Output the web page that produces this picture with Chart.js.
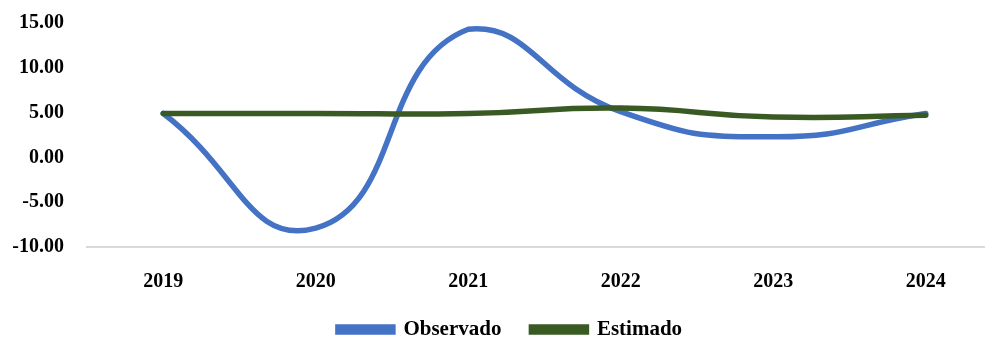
<!DOCTYPE html>
<html>
<head>
<meta charset="utf-8">
<script src="https://cdn.jsdelivr.net/npm/chart.js@4.4.1/dist/chart.umd.min.js"></script>
<style>
  html, body { margin: 0; padding: 0; background: #ffffff; overflow: hidden; }
  #wrap { position: relative; width: 1036px; height: 337px; }
</style>
</head>
<body>
<div id="wrap"><canvas id="chart"></canvas></div>
<script>
// Years on the category axis
const years = ['2019', '2020', '2021', '2022', '2023', '2024'];
// Observed and estimated series
const observado = [4.9, -7.9, 14.3, 5.1, 2.3, 4.9];
const estimado = [4.9, 4.9, 4.9, 5.5, 4.5, 4.7];
// Value axis range
const yMin = -10;
const yMax = 15;
const yStep = 5;

const serif = '"Liberation Serif", "DejaVu Serif", serif';

// Nudges the bottom legend row a little to the right of the plot centre
const legendNudge = {
  id: 'legendNudge',
  afterLayout(chart) {
    if (chart.legend) {
      chart.legend.left += 9;
      chart.legend.right += 9;
    }
  }
};

new Chart(document.getElementById('chart'), {
  type: 'line',
  data: {
    labels: years,
    datasets: [
      {
        label: 'Observado',
        data: observado,
        borderColor: '#4472C4',
        backgroundColor: '#4472C4',
        borderWidth: 5.5,
        borderCapStyle: 'round',
        pointRadius: 0,
        tension: 0.5,
        order: 1
      },
      {
        label: 'Estimado',
        data: estimado,
        borderColor: '#3A5A24',
        backgroundColor: '#3A5A24',
        borderWidth: 5.5,
        borderCapStyle: 'round',
        pointRadius: 0,
        tension: 0.5,
        order: 0
      }
    ]
  },
  plugins: [legendNudge],
  options: {
    responsive: true,
    maintainAspectRatio: false,
    animation: false,
    layout: { padding: { top: 23, right: 34, bottom: -13, left: 0 } },
    plugins: {
      tooltip: { enabled: false },
      legend: {
        position: 'bottom',
        labels: {
          boxWidth: 55,
          boxHeight: 5,
          padding: 30,
          color: '#000000',
          font: { family: serif, size: 21, weight: 'bold' },
          sort: (a, b) => a.datasetIndex - b.datasetIndex
        }
      }
    },
    scales: {
      x: {
        offset: true,
        grid: { display: false, drawTicks: false },
        border: { display: true, color: '#D9D9D9', width: 2 },
        ticks: {
          padding: 23,
          color: '#000000',
          font: { family: serif, size: 20, weight: 'bold' },
          maxRotation: 0
        },
        afterFit: (scale) => { scale.height = 42; }
      },
      y: {
        min: yMin,
        max: yMax,
        grid: { display: false, drawTicks: true, tickLength: 23 },
        border: { display: false },
        ticks: {
          stepSize: yStep,
          padding: 0,
          color: '#000000',
          font: { family: serif, size: 20, weight: 'bold' },
          callback: (v) => Number(v).toFixed(2)
        },
        afterFit: (scale) => { scale.width = 87; }
      }
    }
  }
});
</script>
</body>
</html>
